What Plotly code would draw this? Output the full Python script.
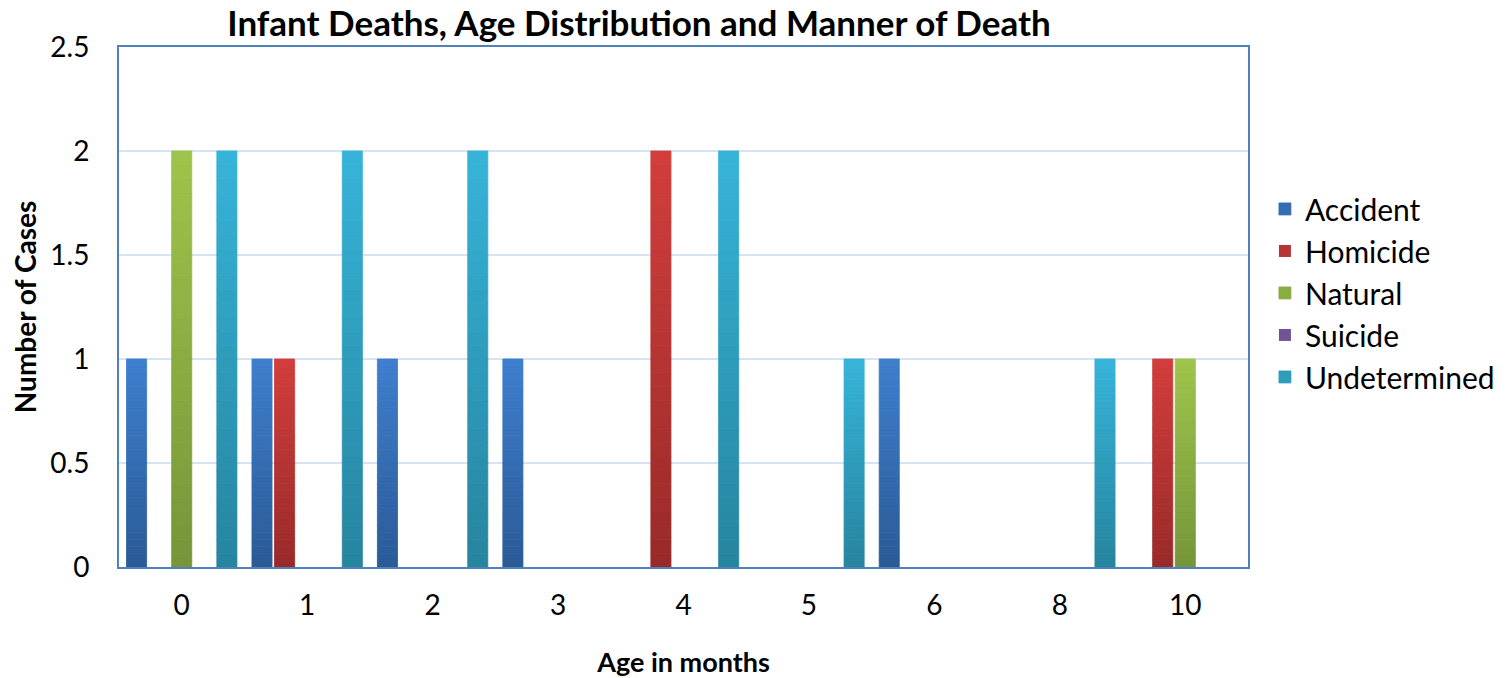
import plotly.graph_objects as go

categories = ["0", "1", "2", "3", "4", "5", "6", "8", "10"]
series_names = ["Accident", "Homicide", "Natural", "Suicide", "Undetermined"]
accident = [1, 1, 1, 1, 0, 0, 1, 0, 0]
homicide = [0, 1, 0, 0, 2, 0, 0, 0, 1]
natural = [2, 0, 0, 0, 0, 0, 0, 0, 1]
suicide = [0, 0, 0, 0, 0, 0, 0, 0, 0]
undetermined = [2, 2, 2, 0, 2, 1, 0, 1, 0]
values = [accident, homicide, natural, suicide, undetermined]

top_colors = [(62, 127, 206), (210, 62, 60), (158, 196, 75), (128, 98, 170), (54, 180, 217)]
bottom_colors = [(42, 90, 150), (152, 42, 41), (117, 149, 57), (96, 70, 132), (38, 132, 158)]

N = 30
fig = go.Figure()

def mix(c1, c2, t):
    return "rgb(%d,%d,%d)" % tuple(round(a + (b - a) * t) for a, b in zip(c1, c2))

for name, vals, ct, cb in zip(series_names, values, top_colors, bottom_colors):
    for k in range(N):
        t = (k + 0.5) / N
        col = mix(cb, ct, t)
        fig.add_trace(go.Bar(
            x=categories,
            y=[v / N for v in vals],
            base=[v * k / N for v in vals],
            name=name,
            offsetgroup=name,
            legendgroup=name,
            showlegend=(k == N // 2),
            marker=dict(color=col, line=dict(width=[0.8 if v > 0 else 0 for v in vals], color=col)),
            hovertemplate=name + ": %{customdata}<extra></extra>",
            customdata=vals,
        ))

font = "Lato, 'Noto Sans', sans-serif"
fig.update_layout(
    width=1504, height=670,
    barmode="group",
    bargap=0.1,
    bargroupgap=0.11,
    paper_bgcolor="white",
    plot_bgcolor="white",
    margin=dict(l=111, r=259, t=39, b=111),
    title=dict(text="<b>Infant Deaths, Age Distribution and Manner of Death</b>",
               x=631 / 1504, xanchor="center", y=1 - 16 / 670, yanchor="middle",
               font=dict(family=font, size=35, color="black")),
    font=dict(family=font, size=28, color="black"),
    legend=dict(x=1.015, xanchor="left", y=0.527, yanchor="middle",
                font=dict(size=30), tracegroupgap=0, itemwidth=30,
                bgcolor="rgba(0,0,0,0)"),
    xaxis=dict(type="category", automargin=False,
               title=dict(text="<b>Age in months</b>", font=dict(size=27), standoff=41),
               showline=True, linecolor="#4f81bd", linewidth=2, mirror=True,
               ticks="outside", ticklen=12, tickcolor="white", tickfont=dict(size=28), showgrid=False),
    yaxis=dict(range=[0, 2.5], dtick=0.5, automargin=False,
               title=dict(text="<b>Number of Cases</b>", font=dict(size=28), standoff=21),
               showline=True, linecolor="#4f81bd", linewidth=2, mirror=True,
               gridcolor="#d6e3f2", gridwidth=2, tickfont=dict(size=28), zeroline=False,
               ticks="outside", ticklen=22, tickcolor="white"),
)

fig.write_html("out.html")
